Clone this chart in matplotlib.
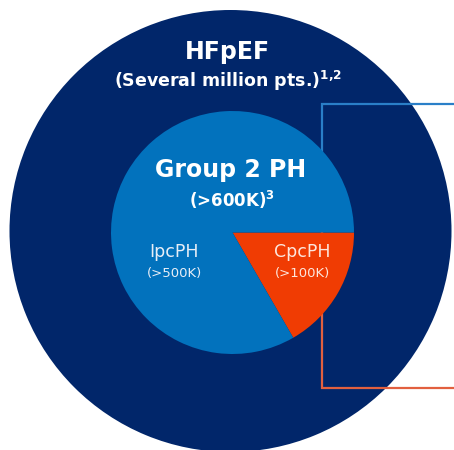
import matplotlib
matplotlib.use("Agg")
import matplotlib.pyplot as plt

# Data
outer_label = "HFpEF"
outer_sub = "(Several million pts.)"
outer_sup = "1{,}2"
inner_label = "Group 2 PH"
inner_sub = "(>600K)"
inner_sup = "3"
segments = ["CpcPH", "IpcPH"]
segment_values = [100, 500]          # thousands of patients
segment_subs = ["(>100K)", "(>500K)"]

# Styles
NAVY = "#01266A"
BLUE = "#0272BD"
ORANGE = "#F03C03"
LINE_BLUE = "#2a7fc8"
LINE_ORANGE = "#E2603F"

W, H = 454, 450
fig = plt.figure(figsize=(W / 100, H / 100), dpi=100)
ax = fig.add_axes([0, 0, 1, 1])
plt.rcParams['font.family'] = ['DejaVu Sans']

# Outer circle (HFpEF)
ax.pie([1], colors=[NAVY], center=(230.5, 231), radius=221,
       wedgeprops=dict(linewidth=0), frame=True)

# Connector lines (drawn beneath inner circle)
ax.plot([454, 321.5, 321.5], [104, 104, 233], color=LINE_BLUE, lw=1.6, zorder=1.5,
        solid_joinstyle="miter")
ax.plot([321.5, 321.5, 454], [233, 388, 388], color=LINE_ORANGE, lw=1.6, zorder=1.5,
        solid_joinstyle="miter")

# Inner pie (Group 2 PH)
wedges, _ = ax.pie(segment_values, colors=[ORANGE, BLUE], center=(232.5, 232.5),
                   radius=121.5, startangle=0, counterclock=True,
                   wedgeprops=dict(linewidth=0), frame=True)
for w in wedges:
    w.set_zorder(2)

ax.set_xlim(0, W)
ax.set_ylim(H, 0)
ax.set_aspect("equal")
ax.axis("off")

# Texts
ax.text(227, 52, outer_label, color="white", fontsize=17, fontweight="bold",
        ha="center", va="center", zorder=5)
ax.text(228, 81, outer_sub + r"$^{\mathbf{" + outer_sup + "}}$", color="white",
        fontsize=12.5, fontweight="bold", ha="center", va="center", zorder=5)
ax.text(231, 170, inner_label, color="white", fontsize=17, fontweight="bold",
        ha="center", va="center", zorder=5)
ax.text(232, 200, inner_sub + r"$^{\mathbf{" + inner_sup + "}}$", color="white",
        fontsize=12, fontweight="bold", ha="center", va="center", zorder=5)

ax.text(174, 252, segments[1], color="#e8eef7", fontsize=12.5,
        ha="center", va="center", zorder=5)
ax.text(174, 273, segment_subs[1], color="#e8eef7", fontsize=9.5,
        ha="center", va="center", zorder=5)
ax.text(302, 252, segments[0], color="#fde6dc", fontsize=12.5,
        ha="center", va="center", zorder=5)
ax.text(302, 273, segment_subs[0], color="#fde6dc", fontsize=9.5,
        ha="center", va="center", zorder=5)

fig.savefig("out.png", dpi=100, facecolor="white")
